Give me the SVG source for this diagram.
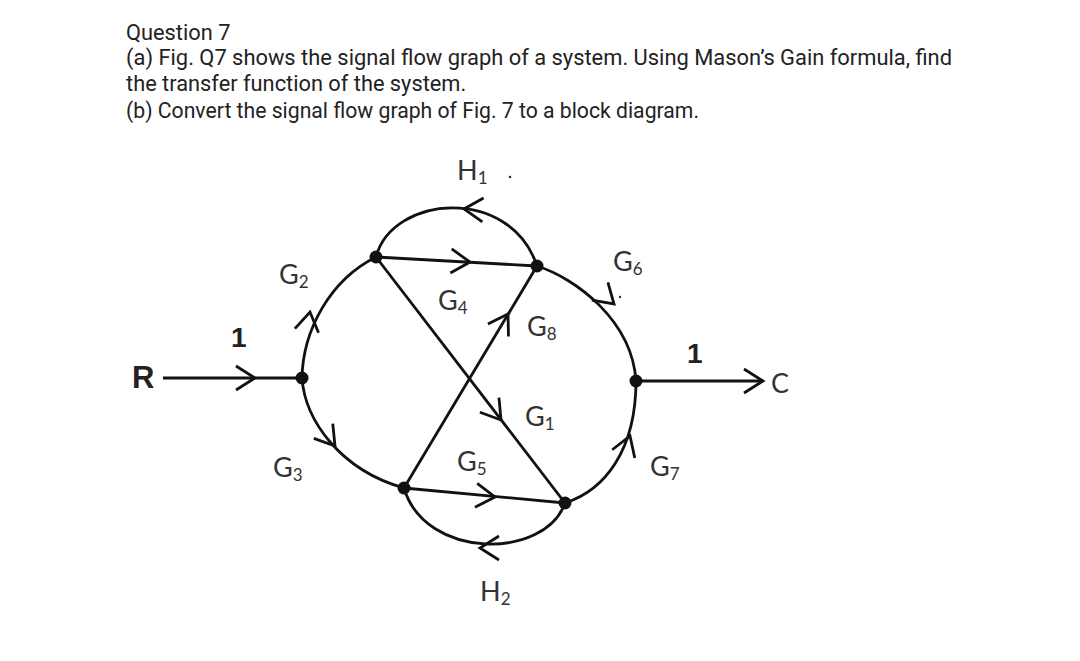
<svg xmlns="http://www.w3.org/2000/svg" xmlns:xlink="http://www.w3.org/1999/xlink" width="1080" height="661" viewBox="0 0 1080 661">
<style>
.q{font-family:Roboto,"Liberation Sans",sans-serif;font-size:21.8px;fill:#222}
.g{font-family:Lato,"Open Sans",sans-serif;font-size:27px;fill:#333}
.s{font-size:17px}
.b{font-family:"Liberation Sans","DejaVu Sans",sans-serif;font-weight:bold;fill:#222}
.e{fill:none;stroke:#111;stroke-width:2.8}
.a{fill:none;stroke:#111;stroke-width:2.8;stroke-linejoin:miter}
.n{fill:#111}
</style>
<defs>
<path id="ah" class="a" d="M-19,-12 L0,0 L-19,12"/>
</defs>
<rect width="1080" height="661" fill="#fff"/>
<g id="title">
<text class="q" x="126" y="40">Question 7</text>
<text class="q" x="126" y="65" textLength="826" lengthAdjust="spacingAndGlyphs">(a) Fig. Q7 shows the signal flow graph of a system. Using Mason’s Gain formula, find</text>
<text class="q" x="126" y="91">the transfer function of the system.</text>
<text class="q" x="126" y="118" textLength="573" lengthAdjust="spacingAndGlyphs">(b) Convert the signal flow graph of Fig. 7 to a block diagram.</text>
</g>
<g id="connectors">
<path class="e" d="M163,378 L302,378"/>
<path class="e" d="M636,381 L763,381"/>
<path class="e" d="M302,378 C303,330 330,280 376,257"/>
<path class="e" d="M302,378 C305,420 340,470 404,488"/>
<path class="e" d="M537,266 C575,278 632,320 636,381"/>
<path class="e" d="M565,503 C605,490 636,450 636,381"/>
<path class="e" d="M376,257 C392,195 510,185 537,266"/>
<path class="e" d="M565,503 C545,560 425,560 404,488"/>
<path class="e" d="M376,257 L537,266"/>
<path class="e" d="M404,488 L565,503"/>
<path class="e" d="M376,257 L565,503"/>
<path class="e" d="M404,488 L537,266"/>
<use xlink:href="#ah" transform="translate(255,378)"/>
<use xlink:href="#ah" transform="translate(763,381)"/>
<use xlink:href="#ah" transform="translate(470,262) rotate(3.2)"/>
<use xlink:href="#ah" transform="translate(495,497) rotate(5.3)"/>
<use xlink:href="#ah" transform="translate(501,420) rotate(52.5)"/>
<use xlink:href="#ah" transform="translate(508,314) rotate(-59)"/>
<use xlink:href="#ah" transform="translate(464,209) rotate(183)"/>
<use xlink:href="#ah" transform="translate(480,548) rotate(180)"/>
<use xlink:href="#ah" transform="translate(310,312) rotate(-80)"/>
<use xlink:href="#ah" transform="translate(335,446) rotate(52)"/>
<use xlink:href="#ah" transform="translate(614,304) rotate(42)"/>
<use xlink:href="#ah" transform="translate(630,436) rotate(-70)"/>
</g>
<g id="n1"><circle class="n" cx="302" cy="378" r="6.5"/></g>
<g id="n2"><circle class="n" cx="376" cy="257" r="6.5"/></g>
<g id="n3"><circle class="n" cx="537" cy="266" r="6.5"/></g>
<g id="n4"><circle class="n" cx="636" cy="381" r="6.5"/></g>
<g id="n5"><circle class="n" cx="404" cy="488" r="6.5"/></g>
<g id="n6"><circle class="n" cx="565" cy="503" r="6.5"/></g>
<g id="labels">
<text class="b" x="132" y="388" font-size="31">R</text>
<text class="g" x="771" y="393" font-size="33">C</text>
<text class="b" x="231" y="347" font-size="28">1</text>
<text class="b" x="687" y="363" font-size="28">1</text>
<text class="g" x="457" y="180">H<tspan class="s" dy="4">1</tspan></text>
<circle cx="510" cy="177" r="1.3" fill="#333"/>
<text class="g" x="279" y="284">G<tspan class="s" dy="4">2</tspan></text>
<text class="g" x="438" y="310">G<tspan class="s" dy="4">4</tspan></text>
<text class="g" x="527" y="336">G<tspan class="s" dy="4">8</tspan></text>
<text class="g" x="613" y="271">G<tspan class="s" dy="4">6</tspan></text>
<circle cx="620" cy="297" r="1.2" fill="#333"/>
<text class="g" x="525" y="426">G<tspan class="s" dy="4">1</tspan></text>
<text class="g" x="457" y="471">G<tspan class="s" dy="4">5</tspan></text>
<text class="g" x="650" y="476">G<tspan class="s" dy="4">7</tspan></text>
<text class="g" x="273" y="477">G<tspan class="s" dy="4">3</tspan></text>
<text class="g" x="480" y="601">H<tspan class="s" dy="4">2</tspan></text>
</g>
</svg>
